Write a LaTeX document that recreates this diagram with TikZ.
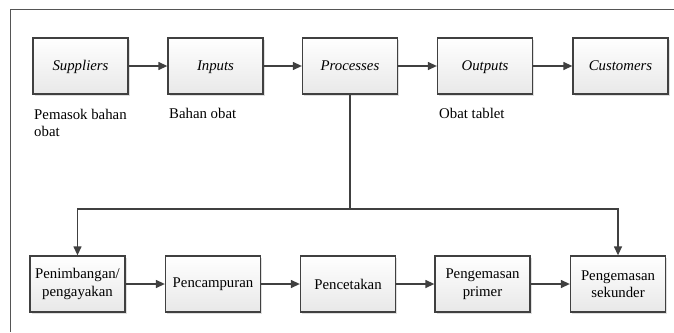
\documentclass[tikz,border=0pt]{standalone}
\usepackage{fontspec}
\setmainfont{Liberation Serif}
\usetikzlibrary{arrows.meta,positioning,shadows}
\definecolor{lgrey}{HTML}{404040}
\definecolor{fgrey}{HTML}{555555}

\begin{document}
\begin{tikzpicture}[
  x=1pt, y=-1pt,
  every node/.style={font=\fontsize{14.8}{17.5}\selectfont},
  blok/.style={draw=lgrey, line width=1.3pt, top color=white, bottom color=black!9,
    minimum width=95pt, minimum height=56pt, align=center, inner sep=2pt,
    drop shadow={shadow xshift=1.5pt, shadow yshift=-1.5pt, fill=black!25}},
  blokatas/.style={blok, font=\fontsize{14.8}{17.5}\selectfont\itshape,
    text height=2.1ex, text depth=.3ex},
  lbl/.style={align=left, anchor=north west, inner sep=0pt},
  panah/.style={draw=lgrey, line width=1.3pt, -{Triangle[length=9pt,width=8pt]}},
  garis/.style={draw=lgrey, line width=1.3pt},
]
  \useasboundingbox (0,0) rectangle (674,332);
  % frame
  \draw[fgrey, line width=1.4pt] (674,9.5) -- (10.5,9.5) -- (10.5,332);

  % SIPOC
  \node[blokatas] (sup) at (80.5,66) {Suppliers};
  \node[blokatas] (inp) at (215.5,66) {Inputs};
  \node[blokatas] (proc) at (350,66) {Processes};
  \node[blokatas] (out) at (485,66) {Outputs};
  \node[blokatas] (cust) at (620.5,66) {Customers};

  \node[lbl] (lsup) at (34,109) {Pemasok bahan\\obat};
  \node[lbl] (linp) at (169,108) {Bahan obat};
  \node[lbl] (lout) at (439,108) {Obat tablet};

  % proses
  \node[blok] (timb) at (77.5,284) {Penimbangan/\\pengayakan};
  \node[blok] (camp) at (213,284) {Pencampuran};
  \node[blok] (cetak) at (348,284) {Pencetakan};
  \node[blok] (prim) at (482.5,284) {Pengemasan\\primer};
  \node[blok] (sek) at (618,284) {Pengemasan\\sekunder};

  \coordinate (cabang) at (350,209);

  \draw[panah] (sup) -- (inp);
  \draw[panah] (inp) -- (proc);
  \draw[panah] (proc) -- (out);
  \draw[panah] (out) -- (cust);

  \draw[garis] (proc.south) -- (cabang);
  \draw[panah] (cabang) -| (timb.north);
  \draw[panah] (cabang) -| (sek.north);

  \draw[panah] (timb) -- (camp);
  \draw[panah] (camp) -- (cetak);
  \draw[panah] (cetak) -- (prim);
  \draw[panah] (prim) -- (sek);
\end{tikzpicture}
\end{document}
